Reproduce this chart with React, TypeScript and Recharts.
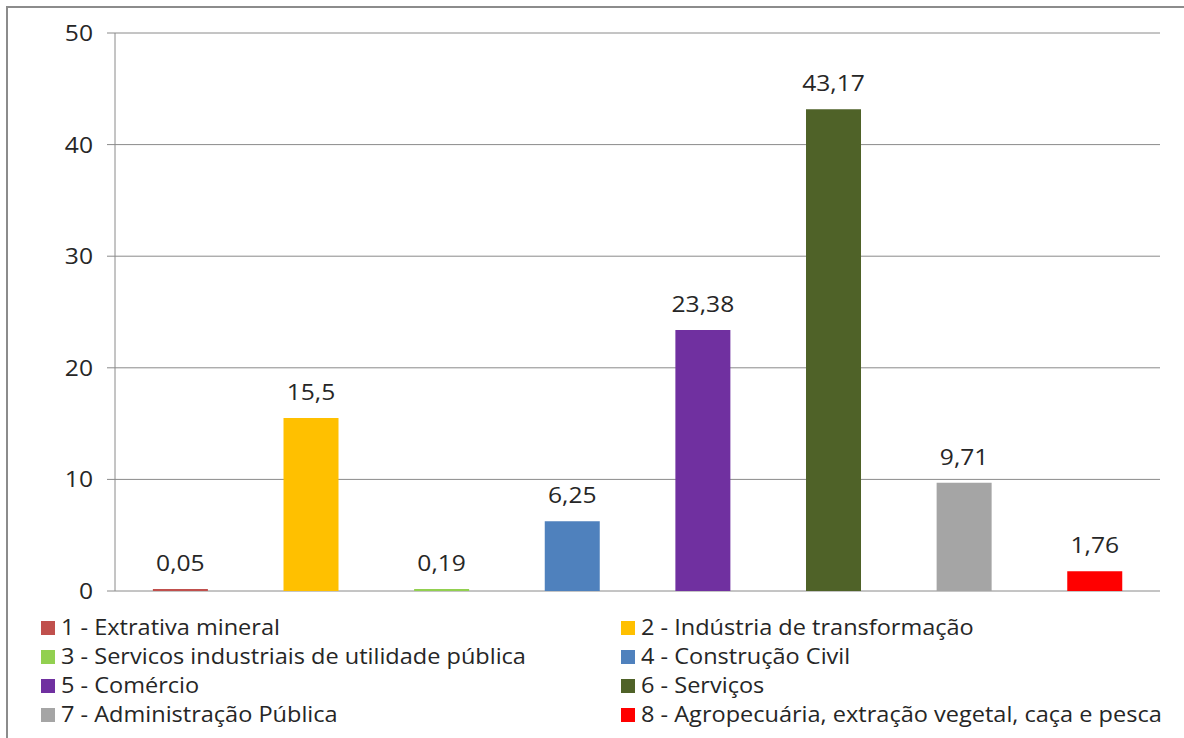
import React from 'react';
import { BarChart, Bar, XAxis, YAxis, CartesianGrid, Cell, LabelList } from 'recharts';

const categories = [
  '1 - Extrativa mineral',
  '2 - Indústria de transformação',
  '3 - Servicos industriais de utilidade pública',
  '4 - Construção Civil',
  '5 - Comércio',
  '6 - Serviços',
  '7 - Administração Pública',
  '8 - Agropecuária, extração vegetal, caça e pesca',
];
const values = [0.05, 15.5, 0.19, 6.25, 23.38, 43.17, 9.71, 1.76];
const colors = ['#C0504D', '#FFC000', '#92D050', '#4F81BD', '#7030A0', '#4F6228', '#A5A5A5', '#FF0000'];
const yTicks = [0, 10, 20, 30, 40, 50];

const FONT = '"Open Sans", sans-serif';
const TEXT = '#262626';
const STRETCH = 1.12; // the reference text is a bit wider than Open Sans

const data = categories.map((name, i) => ({ name, value: values[i] }));

const fmt = (v: any) => String(v).replace('.', ',');

// y-axis tick, stretched horizontally around its anchor
const YTick = (props: any) => {
  const { x, y, payload } = props;
  return (
    <g transform={`translate(${x},${y}) scale(${STRETCH},1)`}>
      <text textAnchor="end" dy="0.36em" fill={TEXT} fontSize={22} fontFamily={FONT}>
        {payload.value}
      </text>
    </g>
  );
};

// value label above each bar
const TopLabel = (props: any) => {
  const { x, y, width, value } = props;
  return (
    <g transform={`translate(${Number(x) + Number(width) / 2},${Number(y) - 18}) scale(${STRETCH},1)`}>
      <text textAnchor="middle" fill={TEXT} fontSize={22} fontFamily={FONT}>
        {fmt(value)}
      </text>
    </g>
  );
};

const App: React.FC = () => {
  return (
    <div
      style={{
        position: 'absolute',
        top: 6,
        left: 6,
        width: 1200,
        height: 760,
        border: '2px solid #8c8c8c',
        background: '#fff',
        fontFamily: FONT,
      }}
    >
      <BarChart
        width={1176}
        height={730}
        data={data}
        margin={{ top: 25, right: 24, left: 0, bottom: 147 }}
        barCategoryGap="29%"
      >
        <CartesianGrid vertical={false} stroke="#8a8a8a" />
        <XAxis dataKey="name" tick={false} tickLine={false} height={0} stroke="#8a8a8a" />
        <YAxis
          domain={[0, 50]}
          ticks={yTicks}
          width={107}
          tickSize={8}
          tickMargin={14}
          stroke="#8a8a8a"
          tick={<YTick />}
        />
        <Bar dataKey="value" isAnimationActive={false} minPointSize={2}>
          {data.map((d, i) => (
            <Cell key={d.name} fill={colors[i]} />
          ))}
          <LabelList dataKey="value" content={<TopLabel />} />
        </Bar>
      </BarChart>
      <div
        style={{
          position: 'absolute',
          left: 33,
          top: 605,
          width: 1150,
          display: 'grid',
          gridTemplateColumns: '580px 570px',
          fontSize: 21,
          color: TEXT,
          lineHeight: '29px',
        }}
      >
        {categories.map((c, i) => (
          <div key={c} style={{ display: 'flex', alignItems: 'center', whiteSpace: 'nowrap' }}>
            <span
              style={{ width: 14, height: 14, background: colors[i], marginRight: 6, display: 'inline-block', flexShrink: 0 }}
            />
            <span style={{ display: 'inline-block', transform: `scaleX(${STRETCH})`, transformOrigin: 'left center' }}>
              {c}
            </span>
          </div>
        ))}
      </div>
    </div>
  );
};

export default App;
